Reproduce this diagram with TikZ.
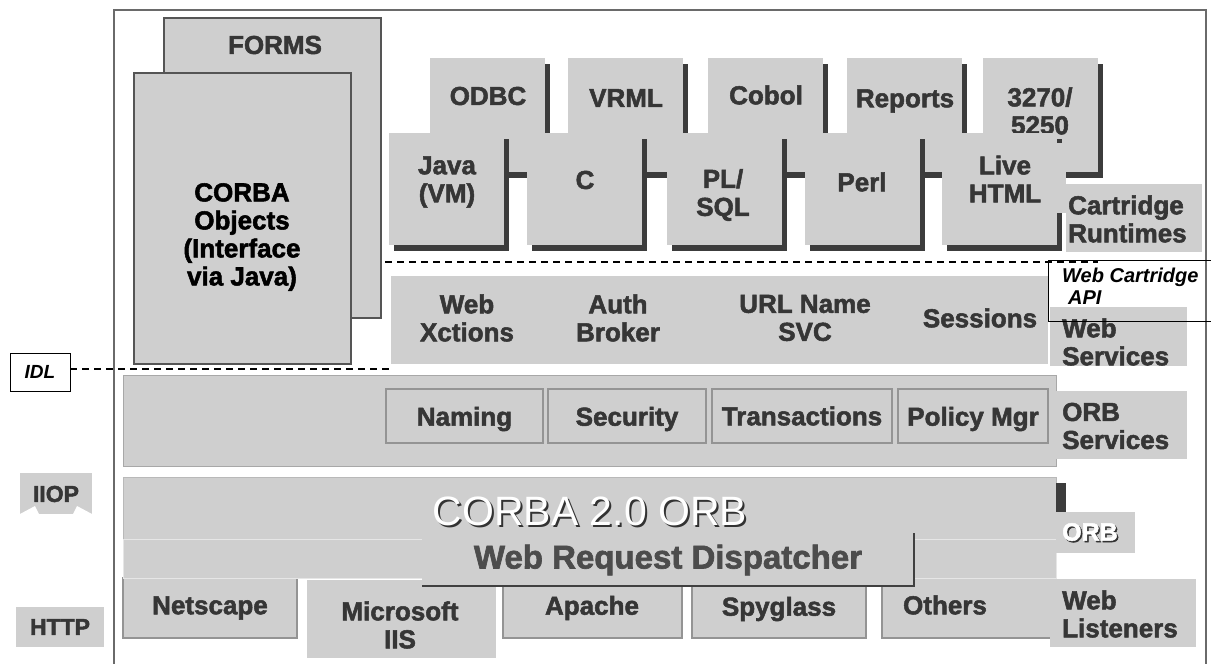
\documentclass[tikz,border=0pt]{standalone}
\usepackage{fontspec}
\setmainfont{Liberation Sans}[BoldFeatures={FakeBold=2}]
\definecolor{bx}{HTML}{CFCFCF}
\definecolor{tx}{HTML}{363636}
\definecolor{sh}{HTML}{3C3C3C}
\definecolor{fr}{HTML}{6A6A6A}
\definecolor{bd}{HTML}{555555}
\definecolor{lb}{HTML}{A8A8A8}
\definecolor{ib}{HTML}{949494}
\definecolor{vl}{HTML}{E6E6E6}
\tikzset{
  base/.style={inner sep=0pt, outer sep=0pt, anchor=north west},
  cart/.style={base, fill=bx},
  pane/.style={base, fill=bx, draw=bd, line width=1.2pt},
  band/.style={base, fill=bx, draw=lb, line width=1pt},
  inbox/.style={base, fill=bx, draw=ib, line width=1.2pt},
  lbl/.style={inner sep=0pt, font=\fontsize{26}{28}\selectfont\bfseries, text=tx, align=center},
  side/.style={lbl, anchor=west, align=left},
  apitext/.style={inner sep=0pt, anchor=west, font=\fontsize{20}{22}\selectfont\bfseries\itshape},
  dline/.style={draw=black, line width=1.5pt, dash pattern=on 7pt off 5pt},
}
\newcommand\cartbox[5]{%
  \fill[sh] (#2+5,#3+6) rectangle ++(#4,#5);
  \node[cart, minimum width=#4pt, minimum height=#5pt] (#1) at (#2,#3) {};}
\begin{document}
\begin{tikzpicture}[x=1pt,y=-1pt]
\clip (0,0) rectangle (1211,664);
\fill[white] (0,0) rectangle (1211,664);
% outer frame
\draw[fr, line width=1.5pt] (114,10) rectangle (1206,700);

% FORMS and CORBA objects
\node[pane, minimum width=217pt, minimum height=300pt] (forms) at (164,18) {};
\node[lbl] (formst) at (275,45) {FORMS};
\node[pane, minimum width=217pt, minimum height=291pt] (corba) at (134,73) {};
\node[lbl, text=black] (corbat) at (242,237) {CORBA\\Objects\\(Interface\\via Java)};

% cartridges, back row
\cartbox{odbc}{430}{58}{115}{114}
\cartbox{vrml}{568}{58}{115}{114}
\cartbox{cobol}{708}{58}{115}{114}
\cartbox{reports}{847}{58}{115}{114}
\cartbox{tn}{983}{58}{115}{114}
\node[lbl] (odbct) at (488,96) {ODBC};
\node[lbl] (vrmlt) at (626,98) {VRML};
\node[lbl] (cobolt) at (766,95) {Cobol};
\node[lbl] (reportst) at (905,101) {Reports};
\node[lbl] (tnt) at (1040,111) {3270/\\5250};
% cartridges, front row
\cartbox{java}{389}{133}{115}{112}
\cartbox{cc}{527}{133}{115}{112}
\cartbox{plsql}{667}{133}{115}{112}
\cartbox{perl}{805}{133}{115}{112}
\cartbox{live}{942}{133}{115}{112}
\node[cart, minimum width=124pt, minimum height=70pt] (livepatch) at (942,143) {};
\node[lbl] (javat) at (447,182) {Java\\(VM)};
\node[lbl] (cct) at (585,180) {C};
\node[lbl] (plsqlt) at (723,195) {PL/\\SQL};
\node[lbl] (perlt) at (862,182) {Perl};
\node[lbl] (livet) at (1005,179) {Live\\HTML};
\node[cart, minimum width=136pt, minimum height=68pt] (crtag) at (1066,184) {};
\node[side] (crtagt) at (1068,219) {Cartridge\\Runtimes};

% Web Cartridge API dashed line
\coordinate (wca) at (385,262);
\coordinate (wcb) at (1098,262);
\draw[dline] (wca) -- (wcb);

% Web services
\node[cart, minimum width=657pt, minimum height=88pt] (ws) at (391,276) {};
\node[lbl] (ws1) at (467,318) {Web\\Xctions};
\node[lbl] (ws2) at (618,318) {Auth\\Broker};
\node[lbl] (ws3) at (805,318) {URL Name\\SVC};
\node[lbl] (ws4) at (980,318) {Sessions};
\node[cart, minimum width=137pt, minimum height=59pt] (wstag) at (1050,307) {};
\node[side] (wstagt) at (1062,342) {Web\\Services};

% IDL
\node[base, fill=white, draw=black, line width=1pt, minimum width=60pt, minimum height=38pt] (idl) at (10,353) {};
\node[inner sep=0pt, font=\fontsize{19}{21}\selectfont\bfseries\itshape] (idlt) at (idl.center) {IDL};
\coordinate (idlend) at (390,369);
\draw[dline] (idl.east |- idlend) -- (idlend);

% ORB services
\node[band, minimum width=933pt, minimum height=91pt] (orbs) at (123,375) {};
\node[inbox, minimum width=157pt, minimum height=54pt] (naming) at (386,389) {};
\node[inbox, minimum width=158pt, minimum height=54pt] (security) at (548,389) {};
\node[inbox, minimum width=180pt, minimum height=54pt] (trans) at (712,389) {};
\node[inbox, minimum width=150pt, minimum height=54pt] (policy) at (898,389) {};
\node[lbl] (namingt) at ([yshift=-3pt]naming.center) {Naming};
\node[lbl] (securityt) at ([yshift=-3pt]security.center) {Security};
\node[lbl] (transt) at (trans.center) {Transactions};
\node[lbl] (policyt) at ([yshift=-3pt]policy.center) {Policy Mgr};
\node[cart, minimum width=131pt, minimum height=68pt] (ostag) at (1056,391) {};
\node[side] (ostagt) at (1062,426) {ORB\\Services};

% Web listeners
\node[inbox, minimum width=174pt, minimum height=60pt] (netscape) at (123,578) {};
\node[cart, minimum width=189pt, minimum height=78pt] (iis) at (307,580) {};
\node[inbox, minimum width=179pt, minimum height=60pt] (apache) at (503,578) {};
\node[inbox, minimum width=174pt, minimum height=60pt] (spy) at (692,578) {};
\node[inbox, minimum width=174pt, minimum height=60pt] (others) at (882,578) {};
\node[lbl] (netscapet) at (210,608) {Netscape};
\node[lbl] (iist) at (400,625) {Microsoft\\IIS};
\node[lbl] (apachet) at (592,608) {Apache};
\node[lbl] (spyt) at (779,609) {Spyglass};
\node[lbl] (otherst) at (945,605) {Others};
\node[cart, minimum width=146pt, minimum height=68pt] (wltag) at (1050,579) {};
\node[side] (wltagt) at (1062,614) {Web\\Listeners};

% CORBA ORB
\node[band, draw=lb!80, minimum width=933pt, minimum height=101pt] (orb) at (123,477) {};
\node[base, fill=bx, draw=vl, line width=1pt, minimum width=933pt, minimum height=39pt] (wrdrow) at (123,539) {};
\node[cart, minimum width=492pt, minimum height=53pt] (disp) at (422,533) {};
\draw[black!75, line width=1.2pt] (disp.north east) -- (disp.south east) -- (disp.south west);
\node[inner sep=0pt, font=\fontsize{41}{44}\selectfont, text=black!80] (orbt2) at (592,513) {CORBA 2.0 ORB};
\node[inner sep=0pt, font=\fontsize{41}{44}\selectfont, text=white] (orbt) at (590,511) {CORBA 2.0 ORB};
\node[inner sep=0pt, font=\fontsize{33}{36}\selectfont\bfseries, text=black!70] (dispt) at (668,560) {Web Request Dispatcher};
\fill[sh] (1056,483) rectangle (1066,553);
\node[cart, minimum width=79pt, minimum height=41pt] (orbtag) at (1056,512) {};
\node[inner sep=0pt, anchor=west, font=\fontsize{25}{28}\selectfont\bfseries, text=black!80] (orbtagt2) at (1063.5,533.5) {ORB};
\node[inner sep=0pt, anchor=west, font=\fontsize{25}{28}\selectfont\bfseries, text=white] (orbtagt) at (1062,532) {ORB};

% IIOP and HTTP
\node[cart, minimum width=72pt, minimum height=41pt] (iiop) at (20,473) {};
\fill[white] (20,514) -- (35,506) -- (39,514) -- cycle;
\fill[white] (92,514) -- (77,506) -- (73,514) -- cycle;
\node[inner sep=0pt, font=\fontsize{23}{25}\selectfont\bfseries, text=tx] (iiopt) at (56,494) {IIOP};
\node[cart, minimum width=88pt, minimum height=40pt] (http) at (16,607) {};
\node[inner sep=0pt, font=\fontsize{23}{25}\selectfont\bfseries, text=tx] (httpt) at (http.center) {HTTP};

% Web Cartridge API box
\node[base, draw=black, line width=1pt, minimum width=170pt, minimum height=61pt] (api) at (1048,260) {};
\node[apitext] (apit1) at (1062,277) {Web Cartridge};
\node[apitext] (apit2) at (1068,298) {API};
\end{tikzpicture}
\end{document}
